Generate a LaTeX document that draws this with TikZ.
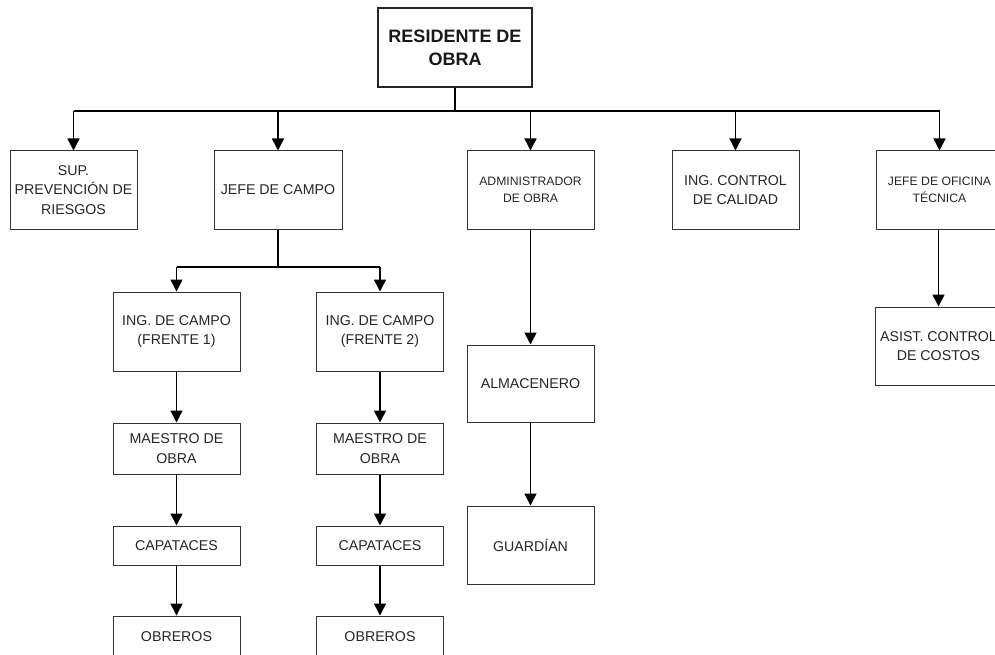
\documentclass[tikz,border=0pt]{standalone}
\usepackage{fontspec}
\setmainfont{Liberation Sans}
\usetikzlibrary{arrows.meta}
\begin{document}
\begin{tikzpicture}[x=1pt,y=-1pt,
  box/.style={draw=black!80, line width=1pt, fill=white, inner sep=0pt,
    align=center, text=black!85, font=\fontsize{14.2}{19.5}\selectfont},
  smalltxt/.style={font=\fontsize{12.2}{17}\selectfont},
  topbox/.style={draw=black!85, line width=2.8pt, fill=white, inner sep=0pt,
    align=center, text=black!90, font=\fontsize{18}{23}\selectfont\bfseries},
  link/.style={line width=1.5pt, draw=black},
  arr/.style={link, -{Triangle[width=12pt,length=12pt]}},
  wh/.style args={#1x#2}{minimum width=#1pt, minimum height=#2pt}
]
\useasboundingbox (0,0) rectangle (995,655);
\begin{scope}
\clip (0,0) rectangle (995,655);

% head of the organisation
\node[topbox, wh=154x79] (res) at (455,47.5) {RESIDENTE DE\\OBRA};

% first level
\node[box, wh=127x78] (sup)  at (73.5,190)  {SUP.\\PREVENCIÓN DE\\RIESGOS};
\node[box, wh=128x78] (jefe) at (278,190)   {JEFE DE CAMPO};
\node[box, smalltxt, wh=127x78] (adm) at (530.5,190) {ADMINISTRADOR\\DE OBRA};
\node[box, wh=127x78] (icc)  at (735.5,190) {ING. CONTROL\\DE CALIDAD};
\node[box, smalltxt, wh=127x78] (jof) at (939.5,190) {JEFE DE OFICINA\\TÉCNICA};

% field engineers
\node[box, wh=127x79] (ic1) at (176.5,331.5) {ING. DE CAMPO\\(FRENTE 1)};
\node[box, wh=127x79] (ic2) at (380,331.5)   {ING. DE CAMPO\\(FRENTE 2)};

% site chain, front 1
\node[box, wh=127x51] (mo1) at (176.5,448.5) {MAESTRO DE\\OBRA};
\node[box, wh=127x39] (ca1) at (176.5,545.5) {CAPATACES};
\node[box, wh=127x42] (ob1) at (176.5,637)   {OBREROS};

% site chain, front 2
\node[box, wh=127x51] (mo2) at (380,448.5) {MAESTRO DE\\OBRA};
\node[box, wh=127x39] (ca2) at (380,545.5) {CAPATACES};
\node[box, wh=127x42] (ob2) at (380,637)   {OBREROS};

% administration chain
\node[box, wh=127x77] (alm) at (530.5,383.5) {ALMACENERO};
\node[box, wh=127x78] (gua) at (530.5,545)   {GUARDÍAN};

% technical office chain
\node[box, wh=127x78] (asi) at (938.5,346) {ASIST. CONTROL\\DE COSTOS};

% main bus
\coordinate (bus) at (455,111);
\draw[link] (res.south) -- (bus);
\draw[link] (sup.north |- bus) -- (jof.north |- bus);
\foreach \n in {sup,jefe,adm,icc,jof}
  \draw[arr] (\n.north |- bus) -- (\n.north);

% field bus
\coordinate (fbus) at (278,267);
\draw[link] (jefe.south) -- (fbus);
\draw[link] (ic1.north |- fbus) -- (ic2.north |- fbus);
\draw[arr] (ic1.north |- fbus) -- (ic1.north);
\draw[arr] (ic2.north |- fbus) -- (ic2.north);

% vertical chains
\draw[arr] (ic1) -- (mo1);
\draw[arr] (mo1) -- (ca1);
\draw[arr] (ca1) -- (ob1);
\draw[arr] (ic2) -- (mo2);
\draw[arr] (mo2) -- (ca2);
\draw[arr] (ca2) -- (ob2);
\draw[arr] (adm) -- (alm);
\draw[arr] (alm) -- (gua);
\draw[arr] (jof.south -| asi) -- (asi.north);
\end{scope}
\end{tikzpicture}
\end{document}
